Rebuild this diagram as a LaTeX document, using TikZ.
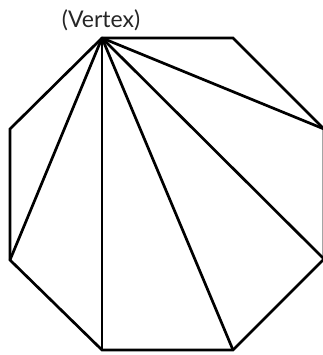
\documentclass[tikz,border=0pt]{standalone}
\usepackage{fontspec}
\setmainfont{Lato}
\begin{document}
\begin{tikzpicture}[
    x=1pt,y=-1pt,
    font=\fontsize{23}{27}\selectfont,
    side/.style={draw=black,line width=2.7pt,line join=miter},
    diag/.style={draw=black,line width=2.7pt},
    lbl/.style={inner sep=0pt,text=black!85}
]
    \useasboundingbox (0,0) rectangle (322,355);
    \coordinate (v0) at (102,38);
    \coordinate (v1) at (233,38);
    \coordinate (v2) at (324,129);
    \coordinate (v3) at (324,259);
    \coordinate (v4) at (233,350);
    \coordinate (v5) at (102,350);
    \coordinate (v6) at (10,260);
    \coordinate (v7) at (10,129);

    \draw[side] (v0) -- (v1) -- (v2) -- (v3) -- (v4) -- (v5) -- (v6) -- (v7) -- cycle;
    \foreach \k in {2,...,6}
        \draw[diag] (v0) -- (v\k);

    \node[lbl] (vertex) at (101,20) {(Vertex)};
\end{tikzpicture}
\end{document}
